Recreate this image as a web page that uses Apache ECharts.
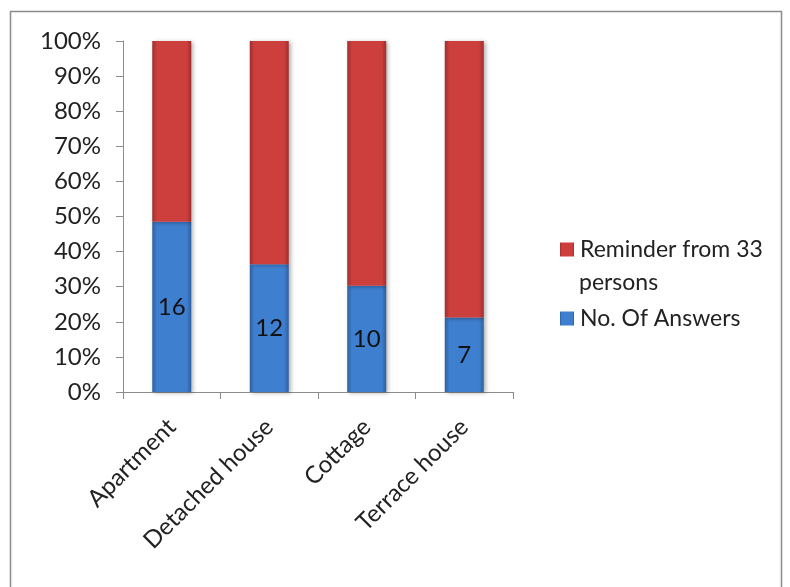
<!DOCTYPE html>
<html>
<head>
<meta charset="utf-8">
<script src="https://cdn.jsdelivr.net/npm/echarts@6/dist/echarts.min.js"></script>
<style>
  html, body { margin: 0; padding: 0; background: #fff; }
  #chart { width: 790px; height: 587px; }
</style>
</head>
<body>
<div id="chart"></div>
<script>
// Survey: housing type of respondents (33 persons in total)
const categories = ['Apartment', 'Detached house', 'Cottage', 'Terrace house'];
const answers = [16, 12, 10, 7];
const remainder = [17, 21, 23, 26];
const yTicks = [0, 10, 20, 30, 40, 50, 60, 70, 80, 90, 100];

const totals = answers.map((a, i) => a + remainder[i]);
const pct = (arr) => arr.map((v, i) => ({ value: v / totals[i] * 100, count: v }));

const FONT = 'Lato, "Open Sans", sans-serif';
const FS = 23;

function barGradient(edge, mid) {
  return new echarts.graphic.LinearGradient(0, 0, 1, 0, [
    { offset: 0, color: edge },
    { offset: 0.12, color: mid },
    { offset: 0.88, color: mid },
    { offset: 1, color: edge }
  ]);
}

const chart = echarts.init(document.getElementById('chart'), null, { renderer: 'canvas' });

chart.setOption({
  backgroundColor: '#ffffff',
  animation: false,
  graphic: [
    {
      type: 'rect',
      shape: { x: 10.5, y: 11.5, width: 771, height: 600 },
      style: { fill: 'none', stroke: '#8c8c8c', lineWidth: 1.5 },
      silent: true
    },
    {
      // second line of the wrapped legend entry
      type: 'text',
      left: 579,
      top: 271,
      style: { text: 'persons', font: FS + 'px ' + FONT, fill: '#222' },
      silent: true
    }
  ],
  grid: { left: 123, right: 277, top: 41, bottom: 195 },
  legend: {
    orient: 'vertical',
    left: 555,
    top: 228,
    itemWidth: 14,
    itemHeight: 14,
    itemGap: 36,
    icon: 'rect',
    data: ['Reminder from 33 persons', 'No. Of Answers'],
    formatter: (name) => name === 'Reminder from 33 persons' ? 'Reminder from 33' : name,
    textStyle: { fontFamily: FONT, fontSize: FS, color: '#222', lineHeight: 33, padding: [0, 0, 0, 1] }
  },
  xAxis: {
    type: 'category',
    data: categories,
    axisLine: { lineStyle: { color: '#8c8c8c', width: 1 } },
    axisTick: { show: true, length: 7, lineStyle: { color: '#8c8c8c' } },
    axisLabel: { rotate: 45, margin: 31, fontFamily: FONT, fontSize: 24, color: '#222', interval: 0 }
  },
  yAxis: {
    type: 'value',
    min: yTicks[0],
    max: yTicks[yTicks.length - 1],
    interval: 10,
    splitLine: { show: false },
    axisLine: { show: true, lineStyle: { color: '#8c8c8c', width: 1 } },
    axisTick: { show: true, length: 7, lineStyle: { color: '#8c8c8c' } },
    axisLabel: { formatter: '{value}%', fontFamily: FONT, fontSize: 24, color: '#222', margin: 22 }
  },
  series: [
    {
      name: 'No. Of Answers',
      type: 'bar',
      stack: 'total',
      barWidth: 39,
      data: pct(answers),
      itemStyle: {
        color: barGradient('#2e5f9e', '#3f7fcf'),
        shadowColor: 'rgba(0,0,0,0.3)',
        shadowBlur: 4,
        shadowOffsetX: 2,
        shadowOffsetY: 1
      },
      label: {
        show: true,
        position: 'inside',
        formatter: (p) => String(p.data.count),
        fontFamily: FONT,
        fontSize: 24,
        color: '#111'
      }
    },
    {
      name: 'Reminder from 33 persons',
      type: 'bar',
      stack: 'total',
      barWidth: 39,
      data: pct(remainder),
      itemStyle: {
        color: barGradient('#9e2e2e', '#cc3f3d'),
        shadowColor: 'rgba(0,0,0,0.3)',
        shadowBlur: 4,
        shadowOffsetX: 2,
        shadowOffsetY: 1
      }
    }
  ]
});
</script>
</body>
</html>
